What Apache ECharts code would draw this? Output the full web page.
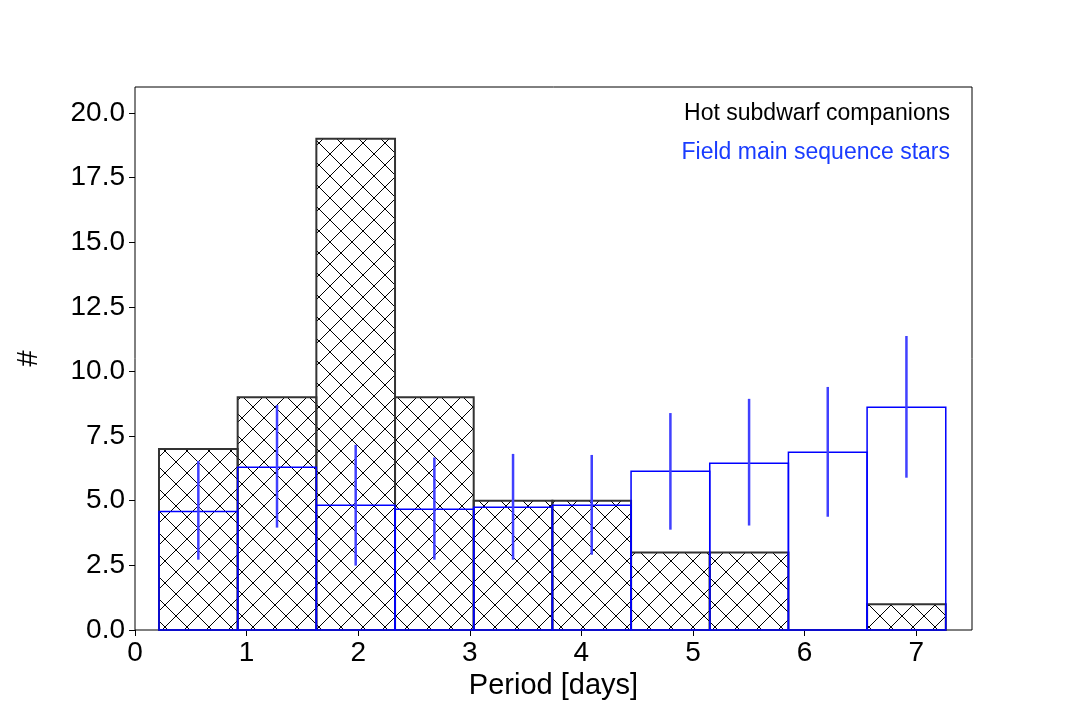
<!DOCTYPE html>
<html><head><meta charset="utf-8">
<script src="https://cdn.jsdelivr.net/npm/echarts@6/dist/echarts.min.js"></script>
<style>html,body{margin:0;padding:0;background:#fff}#c{width:1080px;height:720px}</style>
</head><body><div id="c"></div>
<script>
const binStart = 0.215, binWidth = 0.705;
const hotCounts = [7, 9, 19, 9, 5, 5, 3, 3, 0, 1];
const fieldCounts = [4.58, 6.29, 4.82, 4.67, 4.75, 4.82, 6.14, 6.45, 6.87, 8.61];
const errLow = [2.72, 3.96, 2.49, 2.72, 2.72, 2.91, 3.88, 4.04, 4.38, 5.89];
const errHigh = [6.54, 8.70, 7.16, 6.67, 6.81, 6.77, 8.39, 8.94, 9.40, 11.37];

const bins = hotCounts.map((v, i) => [binStart + binWidth * i, binStart + binWidth * (i + 1)]);
const T = 22;
const pc = document.createElement('canvas'); pc.width = T; pc.height = T;
const g = pc.getContext('2d'); g.strokeStyle = '#000'; g.lineWidth = 1;
g.beginPath(); g.moveTo(0,0); g.lineTo(T,T); g.moveTo(T,0); g.lineTo(0,T); g.stroke();
const hatch = {image: pc, repeat: 'repeat'};

function rectItem(fill, stroke, lw) {
  return function (params, api) {
    const a = api.coord([api.value(0), api.value(2)]);
    const b = api.coord([api.value(1), 0]);
    return {type: 'rect', shape: {x: a[0], y: a[1], width: b[0] - a[0], height: b[1] - a[1]},
      style: {fill: fill, stroke: stroke, lineWidth: lw}};
  };
}
const chart = echarts.init(document.getElementById('c'));
chart.setOption({
  animation: false,
  grid: {left: 135, right: 108, top: 87, bottom: 90, show: true, borderColor: '#000', borderWidth: 1},
  xAxis: {type: 'value', min: 0, max: 7.5, interval: 1, name: 'Period [days]', nameLocation: 'middle', nameGap: 40,
    nameTextStyle: {fontSize: 29, color: '#000', fontFamily: 'Liberation Sans'},
    axisLine: {show: false}, axisTick: {show: true, length: 6, lineStyle: {color: '#000'}}, splitLine: {show: false},
    axisLabel: {fontSize: 28, color: '#000', fontFamily: 'Liberation Sans', showMaxLabel: false, margin: 9}},
  yAxis: {type: 'value', min: 0, max: 21, interval: 2.5, name: '#', nameLocation: 'middle', nameGap: 92, nameRotate: 90,
    nameTextStyle: {fontSize: 29, color: '#000', fontFamily: 'Liberation Sans'},
    axisLine: {show: false}, axisTick: {show: true, length: 6, lineStyle: {color: '#000'}}, splitLine: {show: false},
    axisLabel: {fontSize: 28, color: '#000', fontFamily: 'Liberation Sans', showMaxLabel: false, margin: 10,
      formatter: v => v.toFixed(1)}},
  graphic: [
    {type: 'text', right: 130, top: 102, style: {text: 'Hot subdwarf companions', fontSize: 23, fill: '#000', fontFamily: 'Liberation Sans'}},
    {type: 'text', right: 130, top: 141, style: {text: 'Field main sequence stars', fontSize: 23, fill: '#1a3cff', fontFamily: 'Liberation Sans'}}
  ],
  series: [
    {type: 'custom', renderItem: rectItem(hatch, '#333', 2), data: hotCounts.map((v, i) => [bins[i][0], bins[i][1], v])},
    {type: 'custom', renderItem: rectItem('none', '#0000ff', 1.5), data: fieldCounts.map((v, i) => [bins[i][0], bins[i][1], v])},
    {type: 'custom', renderItem: function (params, api) {
      const x = api.value(0);
      const a = api.coord([x, api.value(1)]), b = api.coord([x, api.value(2)]);
      return {type: 'line', shape: {x1: a[0], y1: a[1], x2: b[0], y2: b[1]}, style: {stroke: '#4040ff', lineWidth: 2.5}};
    }, data: errLow.map((v, i) => [(bins[i][0] + bins[i][1]) / 2, v, errHigh[i]])}
  ]
});
</script></body></html>
